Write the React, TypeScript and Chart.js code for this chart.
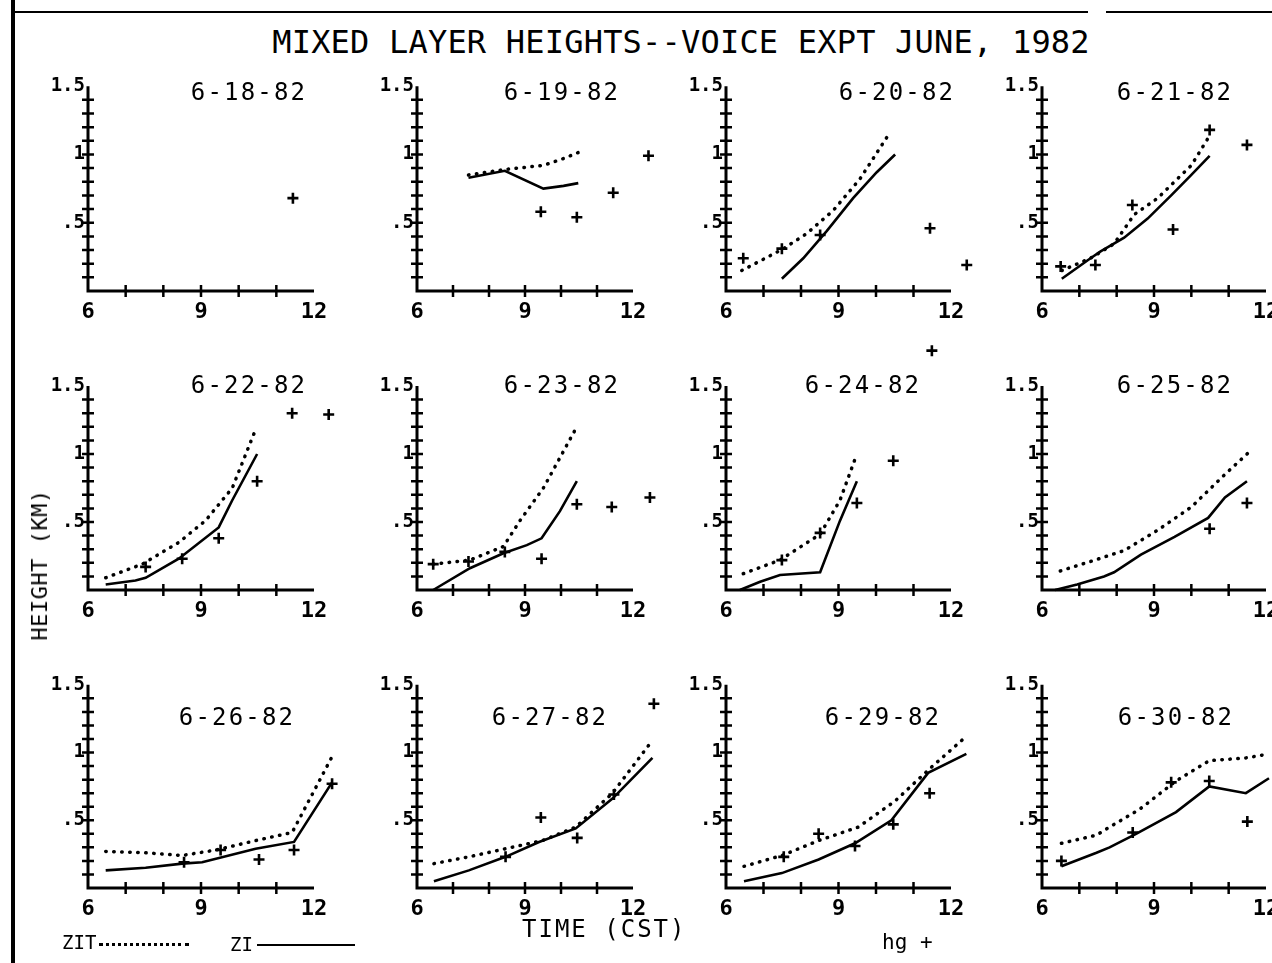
import React, { useEffect, useRef } from 'react';
import { Chart, registerables } from 'chart.js';

Chart.register(...registerables);

type Pt = [number, number];

// ---- data: [time (CST hour), height (km)] ----
const ZIT_0618: Pt[] = [];
const ZI_0618: Pt[] = [];
const HG_0618: Pt[] = [[11.44, 0.68]];

const ZIT_0619: Pt[] = [[7.43, 0.85], [8.44, 0.89], [9.51, 0.92], [10.07, 0.97], [10.53, 1.02]];
const ZI_0619: Pt[] = [[7.43, 0.83], [8.44, 0.88], [9.51, 0.75], [10.07, 0.77], [10.48, 0.79]];
const HG_0619: Pt[] = [[9.44, 0.58], [10.44, 0.54], [11.45, 0.72], [12.43, 0.99]];

const ZIT_0620: Pt[] = [[6.42, 0.15], [6.91, 0.22], [7.53, 0.31], [8.15, 0.42], [8.86, 0.59], [9.57, 0.82], [10.37, 1.16]];
const ZI_0620: Pt[] = [[7.49, 0.09], [8.06, 0.24], [8.69, 0.44], [9.39, 0.68], [10.02, 0.87], [10.51, 1.0]];
const HG_0620: Pt[] = [[6.46, 0.24], [7.49, 0.31], [8.51, 0.41], [11.44, 0.46], [12.42, 0.19]];

const ZIT_0621: Pt[] = [[6.53, 0.15], [7.3, 0.24], [7.93, 0.345], [8.47, 0.56], [9.1, 0.68], [9.64, 0.825], [10.0, 0.92], [10.45, 1.12]];
const ZI_0621: Pt[] = [[6.53, 0.09], [7.3, 0.24], [7.57, 0.29], [8.2, 0.39], [8.83, 0.53], [9.46, 0.7], [10.0, 0.85], [10.49, 0.99]];
const HG_0621: Pt[] = [[6.5, 0.18], [7.43, 0.19], [8.42, 0.63], [9.51, 0.45], [10.49, 1.18], [11.49, 1.07]];

const ZIT_0622: Pt[] = [[6.47, 0.09], [7.44, 0.19], [8.41, 0.35], [9.12, 0.51], [9.83, 0.75], [10.45, 1.18]];
const ZI_0622: Pt[] = [[6.47, 0.04], [7.26, 0.07], [7.53, 0.09], [8.41, 0.23], [9.47, 0.46], [9.83, 0.66], [10.49, 1.0]];
const HG_0622: Pt[] = [[7.53, 0.17], [8.5, 0.23], [9.47, 0.38], [10.49, 0.8], [11.42, 1.3], [12.39, 1.29]];

const ZIT_0623: Pt[] = [[6.45, 0.19], [7.47, 0.22], [8.4, 0.32], [8.86, 0.51], [9.51, 0.75], [10.44, 1.2]];
const ZI_0623: Pt[] = [[6.45, 0.0], [7.47, 0.16], [8.4, 0.27], [9.05, 0.33], [9.46, 0.38], [9.97, 0.58], [10.44, 0.8]];
const HG_0623: Pt[] = [[6.45, 0.19], [7.43, 0.21], [8.44, 0.28], [9.46, 0.23], [10.44, 0.63], [11.41, 0.61], [12.47, 0.68]];

const ZIT_0624: Pt[] = [[6.46, 0.12], [7.44, 0.22], [8.51, 0.41], [9.04, 0.66], [9.49, 1.0]];
const ZI_0624: Pt[] = [[6.37, 0.0], [6.91, 0.06], [7.44, 0.11], [8.51, 0.13], [9.04, 0.51], [9.49, 0.8]];
const HG_0624: Pt[] = [[7.49, 0.22], [8.51, 0.42], [9.49, 0.64], [10.46, 0.95], [11.49, 1.76]];

const ZIT_0625: Pt[] = [[6.49, 0.14], [7.3, 0.21], [8.2, 0.29], [9.1, 0.44], [10.0, 0.61], [10.9, 0.85], [11.53, 1.01]];
const ZI_0625: Pt[] = [[6.35, 0.0], [6.94, 0.04], [7.66, 0.1], [7.93, 0.13], [8.65, 0.26], [9.55, 0.39], [10.45, 0.53], [10.9, 0.68], [11.49, 0.8]];
const HG_0625: Pt[] = [[10.49, 0.45], [11.49, 0.64]];

const ZIT_0626: Pt[] = [[6.47, 0.27], [7.53, 0.26], [8.5, 0.24], [9.39, 0.28], [10.45, 0.35], [11.42, 0.41], [12.48, 0.97]];
const ZI_0626: Pt[] = [[6.47, 0.13], [7.53, 0.15], [8.5, 0.18], [9.03, 0.19], [10.45, 0.29], [11.47, 0.34], [12.48, 0.78]];
const HG_0626: Pt[] = [[8.55, 0.19], [9.52, 0.28], [10.54, 0.21], [11.47, 0.28], [12.48, 0.77]];

const ZIT_0627: Pt[] = [[6.47, 0.18], [7.44, 0.23], [8.46, 0.29], [9.48, 0.35], [10.41, 0.45], [11.43, 0.7], [12.54, 1.09]];
const ZI_0627: Pt[] = [[6.47, 0.05], [7.44, 0.13], [8.46, 0.23], [9.39, 0.34], [10.41, 0.44], [11.43, 0.66], [12.54, 0.96]];
const HG_0627: Pt[] = [[8.46, 0.23], [9.44, 0.52], [10.45, 0.37], [11.47, 0.69], [12.58, 1.36]];

const ZIT_0629: Pt[] = [[6.48, 0.16], [7.49, 0.24], [8.47, 0.35], [9.53, 0.45], [10.5, 0.64], [11.47, 0.89], [12.41, 1.12]];
const ZI_0629: Pt[] = [[6.48, 0.05], [7.49, 0.11], [8.47, 0.21], [9.44, 0.33], [10.41, 0.5], [11.39, 0.85], [12.41, 0.99]];
const HG_0629: Pt[] = [[7.54, 0.23], [8.47, 0.4], [9.44, 0.31], [10.46, 0.47], [11.43, 0.7]];

const ZIT_0630: Pt[] = [[6.52, 0.33], [7.46, 0.39], [7.81, 0.45], [8.61, 0.58], [9.59, 0.79], [10.48, 0.94], [11.46, 0.96], [12.09, 0.99]];
const ZI_0630: Pt[] = [[6.52, 0.16], [7.46, 0.26], [7.81, 0.3], [8.52, 0.4], [9.59, 0.56], [10.48, 0.75], [11.46, 0.7], [12.08, 0.81]];
const HG_0630: Pt[] = [[6.52, 0.2], [8.43, 0.41], [9.46, 0.78], [10.48, 0.79], [11.5, 0.49]];

const DATES = ['6-18-82', '6-19-82', '6-20-82', '6-21-82', '6-22-82', '6-23-82', '6-24-82', '6-25-82', '6-26-82', '6-27-82', '6-29-82', '6-30-82'];

const X_TICKS = [6, 7, 8, 9, 10, 11, 12];
const X_TICK_LABELS = ['6', '', '', '9', '', '', '12'];
const Y_TICKS = [0, 0.1, 0.2, 0.3, 0.4, 0.5, 0.6, 0.7, 0.8, 0.9, 1.0, 1.1, 1.2, 1.3, 1.4, 1.5];
const Y_TICK_LABELS = ['', '', '', '', '', '.5', '', '', '', '', '1', '', '', '', '', '1.5'];

// axis drawn from 6 to 12 h and 0 to 1.5 km; the scales reach a little further so off-axis marks still show
const X_AXIS_MIN = 6;
const X_AXIS_MAX = 12;
const Y_AXIS_MIN = 0;
const Y_AXIS_MAX = 1.5;
const X_SCALE_MAX = 12.8;
const Y_SCALE_MAX = 1.85;

const TITLE = 'MIXED LAYER HEIGHTS--VOICE EXPT JUNE, 1982';

const PANELS = [
  { zit: ZIT_0618, zi: ZI_0618, hg: HG_0618 },
  { zit: ZIT_0619, zi: ZI_0619, hg: HG_0619 },
  { zit: ZIT_0620, zi: ZI_0620, hg: HG_0620 },
  { zit: ZIT_0621, zi: ZI_0621, hg: HG_0621 },
  { zit: ZIT_0622, zi: ZI_0622, hg: HG_0622 },
  { zit: ZIT_0623, zi: ZI_0623, hg: HG_0623 },
  { zit: ZIT_0624, zi: ZI_0624, hg: HG_0624 },
  { zit: ZIT_0625, zi: ZI_0625, hg: HG_0625 },
  { zit: ZIT_0626, zi: ZI_0626, hg: HG_0626 },
  { zit: ZIT_0627, zi: ZI_0627, hg: HG_0627 },
  { zit: ZIT_0629, zi: ZI_0629, hg: HG_0629 },
  { zit: ZIT_0630, zi: ZI_0630, hg: HG_0630 },
];

// ---- layout (pixels) ----
const COL_X0 = [88, 417, 726, 1042];
const COL_W = [226, 216, 225, 224];
const ROW_Y0 = [291, 590, 888];
const ROW_H = [207, 206, 205];
const TITLE_CX = [249, 562, 897, 1175, 249, 562, 863, 1175, 237, 550, 883, 1176];
const TITLE_CY = [92, 385, 717];
const M = { left: 70, top: 12, right: 12, bottom: 45 };
const FONT = "'DejaVu Sans Mono', monospace";

const axesAndTicks = {
  id: 'axesAndTicks',
  afterDraw(chart: any) {
    const { ctx, scales } = chart;
    const xs = scales.x;
    const ys = scales.y;
    const ox = xs.getPixelForValue(X_AXIS_MIN);
    const oy = ys.getPixelForValue(Y_AXIS_MIN);
    ctx.save();
    ctx.strokeStyle = '#000';
    ctx.lineCap = 'butt';
    // axis lines
    ctx.lineWidth = 3;
    ctx.beginPath();
    ctx.moveTo(ox, ys.getPixelForValue(Y_AXIS_MAX));
    ctx.lineTo(ox, oy);
    ctx.lineTo(xs.getPixelForValue(X_AXIS_MAX), oy);
    ctx.stroke();
    // crossing tick marks
    ctx.lineWidth = 2.5;
    ctx.beginPath();
    ys.ticks.forEach((t: any) => {
      if (t.value <= Y_AXIS_MIN || t.value >= Y_AXIS_MAX) return;
      const py = ys.getPixelForValue(t.value);
      ctx.moveTo(ox - 6, py);
      ctx.lineTo(ox + 6, py);
    });
    xs.ticks.forEach((t: any) => {
      if (t.value <= X_AXIS_MIN || t.value >= X_AXIS_MAX) return;
      const px = xs.getPixelForValue(t.value);
      ctx.moveTo(px, oy - 6);
      ctx.lineTo(px, oy + 6);
    });
    ctx.stroke();
    ctx.restore();
  },
};

const toXY = (a: Pt[]) => a.map(([x, y]) => ({ x, y }));

function Panel({ idx }: { idx: number }) {
  const ref = useRef<HTMLCanvasElement>(null);
  const col = idx % 4;
  const row = Math.floor(idx / 4);
  const x0 = COL_X0[col];
  const y0 = ROW_Y0[row];
  // pixel extent of the full scale ranges
  const aw = (COL_W[col] * (X_SCALE_MAX - X_AXIS_MIN)) / (X_AXIS_MAX - X_AXIS_MIN);
  const ah = (ROW_H[row] * (Y_SCALE_MAX - Y_AXIS_MIN)) / (Y_AXIS_MAX - Y_AXIS_MIN);
  const cw = Math.round(aw + M.left + M.right);
  const ch = Math.round(ah + M.top + M.bottom);
  const padRight = cw - M.left - aw;
  const padTop = ch - M.bottom - ah;

  useEffect(() => {
    const p = PANELS[idx];
    const chart = new Chart(ref.current as HTMLCanvasElement, {
      type: 'line',
      data: {
        datasets: [
          {
            label: 'ZIT',
            data: toXY(p.zit),
            borderColor: '#000',
            borderWidth: 3.5,
            borderDash: [0.5, 7.5],
            borderCapStyle: 'round',
            pointRadius: 0,
            tension: 0,
            fill: false,
            clip: false,
          } as any,
          {
            label: 'ZI',
            data: toXY(p.zi),
            borderColor: '#000',
            borderWidth: 2.6,
            pointRadius: 0,
            tension: 0,
            fill: false,
            clip: false,
          } as any,
          {
            label: 'hg',
            data: toXY(p.hg),
            showLine: false,
            pointStyle: 'cross',
            pointRadius: 5.5,
            pointBorderWidth: 2.6,
            pointBorderColor: '#000',
            borderColor: '#000',
            clip: false,
          } as any,
        ],
      },
      options: {
        animation: false,
        responsive: false,
        devicePixelRatio: 1,
        events: [],
        layout: { padding: { left: 0, top: padTop, right: padRight, bottom: 0 } },
        plugins: { legend: { display: false }, tooltip: { enabled: false }, title: { display: false } },
        scales: {
          x: {
            type: 'linear',
            min: X_AXIS_MIN,
            max: X_SCALE_MAX,
            afterFit: (s: any) => { s.height = M.bottom; },
            afterBuildTicks: (s: any) => { s.ticks = X_TICKS.map((value) => ({ value })); },
            grid: { display: false, drawTicks: false },
            border: { display: false },
            ticks: {
              autoSkip: false,
              maxRotation: 0,
              padding: 8,
              color: '#000',
              font: { family: FONT, size: 22, weight: 'bold' },
              callback: (_v: any, i: number) => X_TICK_LABELS[i],
            },
          },
          y: {
            type: 'linear',
            min: Y_AXIS_MIN,
            max: Y_SCALE_MAX,
            afterFit: (s: any) => { s.width = M.left; },
            afterBuildTicks: (s: any) => { s.ticks = Y_TICKS.map((value) => ({ value })); },
            grid: { display: false, drawTicks: false },
            border: { display: false },
            ticks: {
              autoSkip: false,
              padding: 3,
              color: '#000',
              font: { family: FONT, size: 19, weight: 'bold' },
              callback: (_v: any, i: number) => Y_TICK_LABELS[i],
            },
          },
        },
      } as any,
      plugins: [axesAndTicks],
    });
    return () => chart.destroy();
  }, [idx]);

  return (
    <canvas
      ref={ref}
      width={cw}
      height={ch}
      style={{ position: 'absolute', left: x0 - M.left, top: y0 + M.bottom - ch, width: cw, height: ch }}
    />
  );
}

const textStyle = (extra: React.CSSProperties): React.CSSProperties => ({
  position: 'absolute',
  fontFamily: FONT,
  color: '#000',
  whiteSpace: 'nowrap',
  lineHeight: 1,
  ...extra,
});

export default function App() {
  return (
    <div style={{ position: 'absolute', left: 0, top: 0, width: 1272, height: 963, background: '#fff', overflow: 'hidden' }}>
      {/* scan frame */}
      <div style={{ position: 'absolute', left: 11, top: 0, width: 4, height: 963, background: '#000' }} />
      <div style={{ position: 'absolute', left: 11, top: 11, width: 1077, height: 2, background: '#000' }} />
      <div style={{ position: 'absolute', left: 1106, top: 11, width: 166, height: 2, background: '#000' }} />

      <div style={textStyle({ left: 681, top: 42, transform: 'translate(-50%,-50%)', fontSize: 32, letterSpacing: 0.2 })}>{TITLE}</div>

      {PANELS.map((_, i) => (
        <Panel key={i} idx={i} />
      ))}

      {DATES.map((d, i) => (
        <div
          key={d}
          style={textStyle({ left: TITLE_CX[i], top: TITLE_CY[Math.floor(i / 4)], transform: 'translate(-50%,-50%)', fontSize: 24, letterSpacing: 2.2 })}
        >
          {d}
        </div>
      ))}

      <div style={textStyle({ left: 40, top: 565, transform: 'translate(-50%,-50%) rotate(-90deg)', fontSize: 22, letterSpacing: 0.5 })}>HEIGHT (KM)</div>

      <div style={textStyle({ left: 62, top: 942, transform: 'translateY(-50%)', fontSize: 19 })}>ZIT</div>
      <div style={{ position: 'absolute', left: 99, top: 943, width: 90, height: 0, borderTop: '3px dotted #000' }} />
      <div style={textStyle({ left: 230, top: 944, transform: 'translateY(-50%)', fontSize: 19 })}>ZI</div>
      <div style={{ position: 'absolute', left: 257, top: 944, width: 98, height: 2, background: '#000' }} />

      <div style={textStyle({ left: 522, top: 929, transform: 'translateY(-50%)', fontSize: 24, letterSpacing: 2 })}>TIME (CST)</div>
      <div style={textStyle({ left: 882, top: 942, transform: 'translateY(-50%)', fontSize: 21 })}>hg +</div>
    </div>
  );
}
